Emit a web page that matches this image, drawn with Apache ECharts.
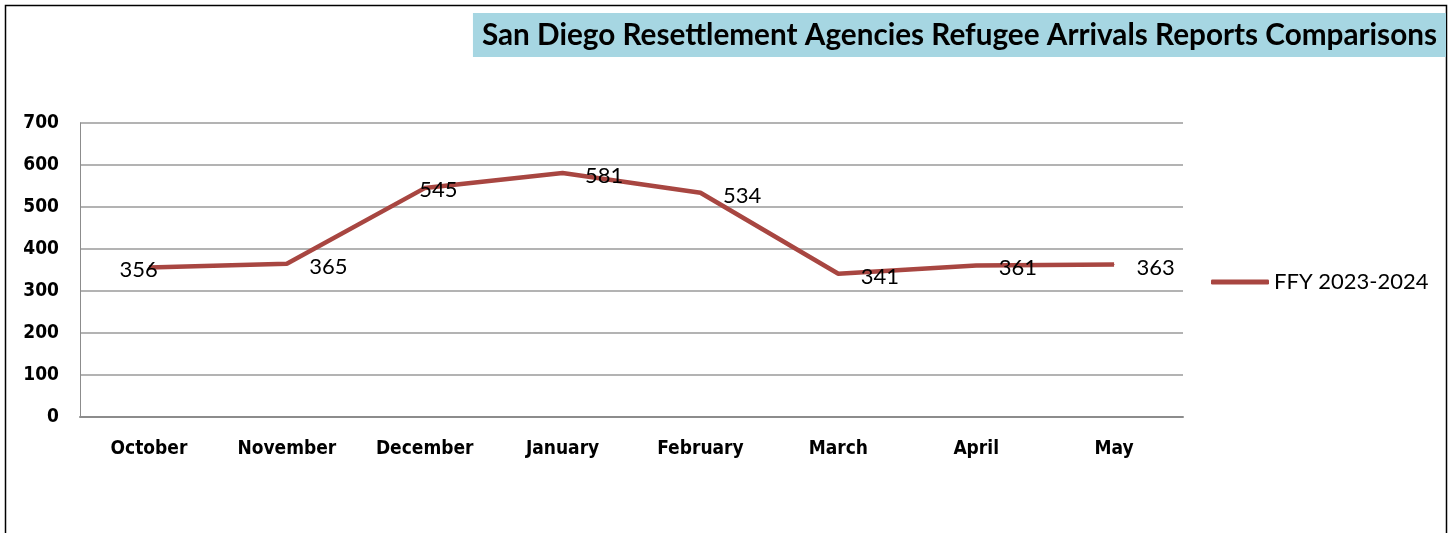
<!DOCTYPE html>
<html>
<head>
<meta charset="utf-8">
<script src="https://cdn.jsdelivr.net/npm/echarts@6/dist/echarts.min.js"></script>
<style>
  html, body { margin: 0; padding: 0; background: #fff; }
  #main { width: 1452px; height: 533px; }
</style>
</head>
<body>
<div id="main"></div>
<script>
// data
let months = ['October', 'November', 'December', 'January', 'February', 'March', 'April', 'May'];
let arrivals = [356, 365, 545, 581, 534, 341, 361, 363];
let yTicks = [0, 100, 200, 300, 400, 500, 600, 700];
let seriesName = 'FFY 2023-2024';

// Excel put a couple of labels in odd spots
let labelShift = { 0: [-52, 2], 2: [-28, 2] };

let lineColor = '#a84641';
let narrowFont = '"DejaVu Sans Condensed", "Liberation Sans Narrow", "Liberation Sans", sans-serif';

let points = arrivals.map(function (v, i) {
  let item = { value: v };
  if (labelShift[i]) {
    item.label = { offset: labelShift[i] };
  }
  return item;
});

var myChart = echarts.init(document.getElementById('main'));

var option = {
  animation: false,
  backgroundColor: '#fff',
  title: {
    text: 'San Diego Resettlement Agencies Refugee Arrivals Reports Comparisons',
    right: 6,
    top: 13,
    backgroundColor: '#a6d6e2',
    padding: [7, 9, 7, 9],
    textStyle: {
      fontFamily: 'Lato',
      fontWeight: 'bold',
      fontSize: 29.7,
      lineHeight: 30,
      color: '#000'
    }
  },
  legend: {
    data: [seriesName],
    left: 1206,
    top: 266,
    icon: 'roundRect',
    itemWidth: 58,
    itemHeight: 5,
    itemGap: 4,
    textStyle: {
      fontFamily: 'Lato',
      fontSize: 22,
      color: '#000'
    }
  },
  grid: {
    left: 80,
    right: 269,
    top: 123,
    bottom: 116,
    containLabel: false
  },
  xAxis: {
    type: 'category',
    data: months,
    boundaryGap: true,
    axisLine: { lineStyle: { color: '#8c8c8c', width: 2 } },
    axisTick: { show: false },
    axisLabel: {
      margin: 23,
      fontFamily: narrowFont,
      fontWeight: 'bold',
      fontSize: 19,
      color: '#000'
    }
  },
  yAxis: {
    type: 'value',
    min: yTicks[0],
    max: yTicks[yTicks.length - 1],
    interval: 100,
    axisLine: { show: true, lineStyle: { color: '#8c8c8c', width: 1 } },
    axisTick: { show: false },
    splitLine: { lineStyle: { color: '#9a9a9a', width: 1.5 } },
    axisLabel: {
      margin: 21,
      fontFamily: narrowFont,
      fontWeight: 'bold',
      fontSize: 19,
      color: '#000'
    }
  },
  series: [{
    name: seriesName,
    type: 'line',
    data: points,
    symbol: 'circle',
    symbolSize: 1,
    showSymbol: true,
    lineStyle: { color: lineColor, width: 4.5 },
    itemStyle: { color: lineColor },
    label: {
      show: true,
      position: 'right',
      distance: 22,
      offset: [0, 3],
      fontFamily: 'Lato',
      fontSize: 22,
      color: '#000'
    }
  }],
  graphic: [{
    type: 'rect',
    shape: { x: 5.5, y: 5.5, width: 1441, height: 560 },
    style: { fill: null, stroke: '#000', lineWidth: 1.5 },
    silent: true,
    z: -1
  }]
};

myChart.setOption(option);
</script>
</body>
</html>
